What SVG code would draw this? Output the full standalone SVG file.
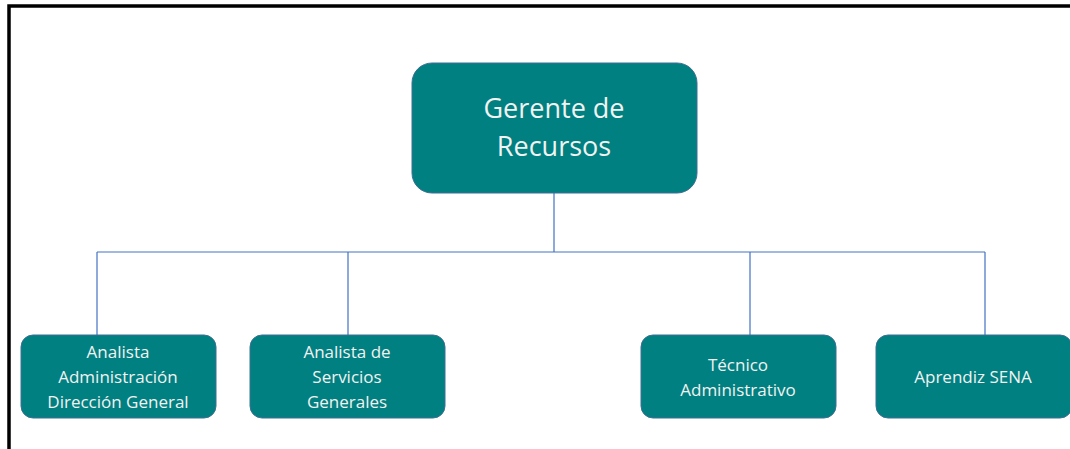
<svg xmlns="http://www.w3.org/2000/svg" width="1070" height="449" viewBox="0 0 1070 449">
<style>
.box{fill:#008080;stroke:#3f6f93;stroke-width:1}
.t{font-family:"Open Sans","Noto Sans",sans-serif;fill:#f2f2f2;text-anchor:middle}
.s{font-size:17px;font-weight:500}
.b{font-size:27px}
.c{stroke:#4472c4;stroke-width:1.2;fill:none}
</style>
<rect x="0" y="0" width="1070" height="449" fill="#fff"/>
<path d="M9,449 V6 H1070" fill="none" stroke="#000" stroke-width="3.5"/>
<g id="connectors">
<path class="c" d="M554,193 V252 M97,252 H985 M97,252 V335 M348,252 V335 M750,252 V335 M985,252 V335"/>
</g>
<g id="n0">
<rect class="box" x="412" y="63" width="285" height="130" rx="20"/>
<text class="t b" x="554" y="118">Gerente de</text>
<text class="t b" x="554" y="156">Recursos</text>
</g>
<g id="n1">
<rect class="box" x="21" y="335" width="195" height="83" rx="12"/>
<text class="t s" x="118" y="358">Analista</text>
<text class="t s" x="118" y="383">Administración</text>
<text class="t s" x="118" y="408">Dirección General</text>
</g>
<g id="n2">
<rect class="box" x="250" y="335" width="195" height="83" rx="12"/>
<text class="t s" x="347" y="358">Analista de</text>
<text class="t s" x="347" y="383">Servicios</text>
<text class="t s" x="347" y="408">Generales</text>
</g>
<g id="n3">
<rect class="box" x="641" y="335" width="195" height="83" rx="12"/>
<text class="t s" x="738" y="371">Técnico</text>
<text class="t s" x="738" y="396">Administrativo</text>
</g>
<g id="n4">
<rect class="box" x="876" y="335" width="196" height="83" rx="12"/>
<text class="t s" x="973" y="383">Aprendiz SENA</text>
</g>
</svg>
